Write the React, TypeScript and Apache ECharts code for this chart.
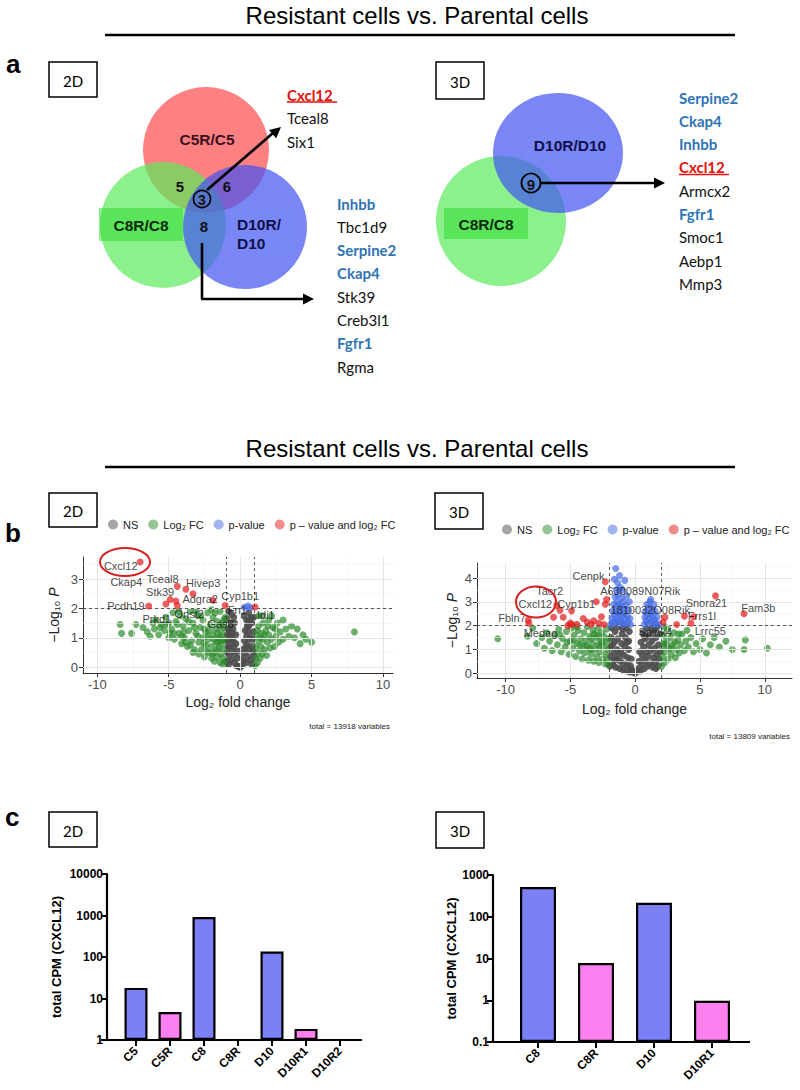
import React, { useEffect, useRef } from "react";
import * as echarts from "echarts";

const SANS = "Liberation Sans, Arial, sans-serif";
const CAL = "Lato, 'Open Sans', sans-serif";

const sectionTitle = "Resistant cells vs. Parental cells";

// ---------- Venn (panel a) ----------
const vennSets2D = ["C5R/C5", "C8R/C8", "D10R/", "D10"];
const vennCounts2D = ["5", "6", "3", "8"];
const vennSets3D = ["D10R/D10", "C8R/C8"];
const vennCount3D = "9";

type Gene = [string, "r" | "b" | "k"];
const genes2DShared3: Gene[] = [["Cxcl12", "r"], ["Tceal8", "k"], ["Six1", "k"]];
const genes2DShared8: Gene[] = [
  ["Inhbb", "b"], ["Tbc1d9", "k"], ["Serpine2", "b"], ["Ckap4", "b"],
  ["Stk39", "k"], ["Creb3l1", "k"], ["Fgfr1", "b"], ["Rgma", "k"],
];
const genes3DShared9: Gene[] = [
  ["Serpine2", "b"], ["Ckap4", "b"], ["Inhbb", "b"], ["Cxcl12", "r"], ["Armcx2", "k"],
  ["Fgfr1", "b"], ["Smoc1", "k"], ["Aebp1", "k"], ["Mmp3", "k"],
];

// ---------- Volcano (panel b) ----------
const legendNames = ["NS", "Log₂ FC", "p-value", "p – value and log₂ FC"];
const volcanoColors = ["#4d4d4d", "#2e8b2e", "#4169e1", "#e31a1c"];
const volcanoXTicks = [-10, -5, 0, 5, 10];
const volcanoXMinor = [-7.5, -2.5, 2.5, 7.5];
const volcano2DYTicks = [0, 1, 2, 3];
const volcano2DYMinor = [0.5, 1.5, 2.5, 3.5];
const volcano3DYTicks = [0, 1, 2, 3, 4];
const volcano3DYMinor = [0.5, 1.5, 2.5, 3.5, 4.5];
const total2D = "total = 13918 variables";
const total3D = "total = 13809 variables";

const ns2D = [
  [-0.95, 0.2], [-0.9, 0.5], [-0.9, 0.9], [-0.85, 1.3], [-0.8, 0.1], [-0.75, 0.4], [-0.7, 0.7], [-0.7, 1.1],
  [-0.65, 1.5], [-0.6, 0.25], [-0.55, 0.55], [-0.5, 0.9], [-0.5, 1.3], [-0.45, 1.7], [-0.4, 0.15], [-0.35, 0.45],
  [-0.3, 0.8], [-0.3, 1.1], [-0.25, 0.05], [-0.2, 0.3], [-0.15, 0.55], [-0.1, 0.02], [0, 0], [0.1, 0.05],
  [0.15, 0.35], [0.2, 0.6], [0.25, 0.2], [0.3, 0.9], [0.35, 1.25], [0.35, 0.5], [0.4, 0.15], [0.45, 1.05],
  [0.45, 1.6], [0.5, 0.8], [0.55, 0.35], [0.6, 1.4], [0.6, 1.85], [0.65, 0.6], [0.7, 1.0], [0.75, 0.25],
  [0.8, 1.5], [0.85, 0.7], [0.9, 1.2], [0.95, 0.4], [0.95, 1.7], [-0.95, 1.65], [-0.6, 1.8], [0.25, 1.75],
  [0.55, 1.2], [-0.85, 0.7], [0.75, 1.7], [-0.8, 1.9], [-0.4, 1.5], [0.85, 0.95], [-0.65, 0.95], [0.4, 0.7],
  [-0.9, 1.1], [-0.75, 1.3], [-0.55, 1.15], [0.65, 1.6], [0.9, 0.55], [-0.45, 0.7], [0.5, 1.4], [0.8, 0.1],
];
const fc2D = [
  [-8.4, 1.45], [-8.3, 1.15], [-7.3, 1.45], [-6.5, 1.2], [-6.3, 1.05], [-6.0, 1.3], [-5.9, 1.6], [-5.7, 1.1],
  [-5.5, 1.45], [-5.3, 1.25], [-5.2, 1.7], [-5.0, 1.0], [-5.0, 1.5], [-4.8, 1.3], [-4.7, 1.85], [-4.6, 0.95],
  [-4.5, 1.55], [-4.3, 1.15], [-4.2, 1.75], [-4.1, 0.8], [-4.0, 1.4], [-3.9, 1.0], [-3.8, 1.65], [-3.7, 0.7],
  [-3.6, 1.25], [-3.5, 1.9], [-3.4, 0.9], [-3.3, 1.5], [-3.2, 0.6], [-3.1, 1.15], [-3.0, 1.75], [-2.9, 0.45],
  [-2.9, 0.85], [-2.8, 1.35], [-2.7, 0.6], [-2.6, 1.0], [-2.6, 1.6], [-2.5, 0.35], [-2.4, 0.75], [-2.4, 1.2],
  [-2.3, 1.85], [-2.2, 0.5], [-2.2, 0.95], [-2.1, 1.45], [-2.0, 0.3], [-2.0, 0.7], [-1.9, 1.1], [-1.9, 1.7],
  [-1.8, 0.2], [-1.8, 0.5], [-1.7, 0.85], [-1.7, 1.3], [-1.6, 0.35], [-1.6, 1.55], [-1.5, 0.65], [-1.5, 1.0],
  [-1.4, 0.15], [-1.4, 1.9], [-1.35, 0.45], [-1.3, 0.8], [-1.3, 1.2], [-1.25, 1.5], [-1.2, 0.1], [-1.2, 0.3],
  [-1.15, 0.6], [-1.1, 0.95], [-1.1, 1.35], [-1.05, 0.2], [-1.05, 1.7], [-3.3, 0.5], [-2.5, 1.3], [-1.6, 1.15],
  [-4.9, 1.15], [-4.4, 1.45], [-3.95, 1.2], [-3.5, 0.75], [-3.2, 1.35], [-2.75, 1.75], [-2.3, 1.05], [-1.95, 0.45],
  [-1.75, 1.85], [-1.55, 0.85], [-1.45, 1.4], [-1.25, 0.9], [-1.15, 1.6], [-3.6, 1.55], [-4.1, 1.05], [-2.95, 1.05],
  [-2.15, 1.25], [-1.85, 0.95], [-2.55, 0.8], [-3.85, 0.85], [-5.6, 1.35], [-5.15, 1.45], [-4.65, 1.15], [-2.35, 0.55],
  [-1.65, 0.6], [-1.35, 1.05], [-6.1, 1.5], [-7.6, 1.15], [-6.8, 1.35], [-4.3, 1.9], [-3.1, 1.9], [-2.0, 1.95],
  [1.05, 0.05], [1.1, 0.3], [1.1, 0.7], [1.15, 1.1], [1.2, 0.15], [1.25, 0.5], [1.3, 0.9], [1.3, 1.4],
  [1.4, 0.3], [1.45, 0.7], [1.5, 1.15], [1.55, 0.45], [1.6, 0.95], [1.6, 1.5], [1.7, 0.6], [1.8, 1.25],
  [1.85, 0.4], [1.9, 0.85], [2.0, 1.1], [2.0, 1.6], [2.1, 0.65], [2.2, 0.95], [2.3, 1.35], [2.4, 0.7],
  [2.5, 1.05], [2.6, 1.5], [2.7, 0.85], [2.8, 1.2], [3.0, 0.95], [3.0, 1.6], [3.2, 1.3], [3.4, 1.05],
  [3.6, 1.4], [3.8, 1.0], [4.0, 1.3], [4.2, 0.8], [4.4, 1.1], [4.6, 0.95], [5.0, 0.85], [8.0, 1.2],
  [1.3, 1.75], [2.2, 1.75], [1.2, 1.25], [1.4, 1.0], [1.7, 1.1], [2.45, 1.3], [1.95, 1.4], [1.55, 1.75],
];
const p2D = [[0.3, 2.04], [0.55, 2.08], [0.75, 2.02]];
const both2D = [
  [-7.0, 3.58], [-4.4, 2.75], [-3.8, 2.65], [-3.3, 2.5], [-4.9, 2.3], [-4.5, 2.25], [-5.2, 2.15],
  [-4.4, 2.1], [-6.4, 2.08], [-1.9, 2.28], [-1.05, 2.1], [1.05, 2.05],
];
const labels2D: [string, number, number][] = [
  ["Cxcl12", -8.36, 3.44], ["Ckap4", -7.97, 2.91], ["Tceal8", -5.42, 3.0], ["Hivep3", -2.59, 2.87],
  ["Stk39", -5.6, 2.55], ["Adgra2", -2.8, 2.31], ["Cyp1b1", 0, 2.42], ["Pcdh19", -8.0, 2.08],
  ["Fn1", -0.2, 1.94], ["Idi1", 1.8, 1.77], ["Onst2", -3.57, 1.8], ["Prkd1", -5.83, 1.63], ["Gas6", -1.36, 1.46],
];

const ns3D = [
  [-1.95, 0.3], [-1.9, 0.7], [-1.9, 1.1], [-1.85, 1.5], [-1.8, 1.9], [-1.7, 0.35], [-1.65, 0.85], [-1.6, 1.3],
  [-1.55, 1.75], [-1.5, 0.25], [-1.45, 0.6], [-1.4, 1.0], [-1.35, 1.45], [-1.3, 1.95], [-1.2, 0.2], [-1.15, 0.5],
  [-1.1, 0.9], [-1.05, 1.25], [-1.0, 1.65], [-0.95, 0.15], [-0.9, 0.4], [-0.85, 0.75], [-0.8, 1.1], [-0.75, 1.5],
  [-0.7, 1.9], [-0.65, 0.1], [-0.6, 0.35], [-0.55, 0.65], [-0.5, 1.0], [-0.5, 1.35], [-0.45, 1.75], [-0.4, 0.05],
  [-0.35, 0.3], [-0.3, 0.6], [-0.25, 0.15], [-0.15, 0.05], [0, 0], [0.15, 0.08], [0.25, 0.2], [0.3, 0.5],
  [0.35, 0.9], [0.4, 0.1], [0.45, 1.3], [0.5, 0.4], [0.55, 0.75], [0.6, 1.7], [0.65, 1.1], [0.7, 0.2],
  [0.75, 0.55], [0.8, 1.45], [0.85, 0.9], [0.9, 1.9], [0.95, 0.3], [1.0, 0.7], [1.05, 1.2], [1.1, 1.6],
  [1.15, 0.4], [1.2, 0.95], [1.3, 1.35], [1.35, 0.25], [1.4, 0.65], [1.45, 1.8], [1.5, 1.05], [1.55, 0.45],
  [1.6, 1.5], [1.65, 0.8], [1.7, 1.95], [1.75, 0.3], [1.8, 1.2], [1.85, 0.6], [1.9, 1.65], [1.95, 0.9],
  [-1.75, 1.2], [-0.95, 1.85], [1.25, 1.85], [-1.25, 0.75], [-1.6, 0.55], [1.6, 0.2], [-0.65, 1.3], [0.7, 1.55],
];
const fc3D = [
  [-10.6, 1.45], [-8.3, 1.55], [-7.9, 1.9], [-7.6, 1.25], [-7.2, 1.5], [-7.0, 1.05], [-6.8, 1.7], [-6.6, 1.35],
  [-6.4, 0.95], [-6.2, 1.6], [-6.0, 1.2], [-5.9, 1.85], [-5.7, 0.9], [-5.6, 1.45], [-5.4, 1.1], [-5.3, 1.75],
  [-5.1, 0.8], [-5.0, 1.35], [-4.9, 1.9], [-4.8, 1.05], [-4.7, 1.6], [-4.6, 0.7], [-4.5, 1.25], [-4.4, 1.8],
  [-4.3, 0.95], [-4.2, 1.45], [-4.1, 0.6], [-4.0, 1.15], [-3.95, 1.7], [-3.9, 0.85], [-3.8, 1.35], [-3.7, 1.95],
  [-3.6, 0.55], [-3.55, 1.05], [-3.5, 1.55], [-3.4, 0.8], [-3.3, 1.25], [-3.25, 1.8], [-3.2, 0.5], [-3.1, 1.0],
  [-3.0, 1.5], [-2.95, 0.7], [-2.9, 1.2], [-2.85, 1.9], [-2.8, 0.45], [-2.7, 0.9], [-2.65, 1.4], [-2.6, 1.7],
  [-2.5, 0.6], [-2.45, 1.1], [-2.4, 1.55], [-2.35, 0.4], [-2.3, 0.8], [-2.25, 1.3], [-2.2, 1.85], [-2.15, 0.55],
  [-2.1, 1.0], [-2.05, 1.45], [-2.05, 0.35], [-5.8, 1.6], [-4.5, 1.95], [-3.4, 1.45], [-2.7, 1.15],
  [-3.75, 1.15], [-3.15, 1.65], [-2.55, 1.3], [-4.25, 1.2], [-3.45, 1.0], [-2.9, 1.6], [-4.75, 1.4], [-5.25, 1.3],
  [2.05, 0.3], [2.1, 0.7], [2.15, 1.15], [2.2, 1.6], [2.3, 0.45], [2.35, 0.9], [2.4, 1.35], [2.5, 1.85],
  [2.55, 0.6], [2.6, 1.05], [2.7, 1.5], [2.8, 0.8], [2.9, 1.2], [3.0, 1.7], [3.1, 0.65], [3.2, 1.0],
  [3.3, 1.4], [3.4, 0.85], [3.5, 1.2], [3.6, 1.65], [3.8, 0.95], [3.9, 1.35], [4.1, 1.1], [4.3, 1.5],
  [4.5, 0.9], [4.7, 1.25], [5.0, 1.0], [5.2, 1.45], [5.5, 0.85], [5.8, 1.2], [6.1, 1.5], [6.5, 1.1],
  [7.0, 1.35], [7.5, 1.0], [8.4, 1.0], [8.5, 1.4], [10.2, 1.05], [4.0, 1.8], [2.3, 1.95], [2.45, 1.2],
  [2.75, 1.05], [3.05, 1.3], [2.25, 1.25], [3.35, 1.65],
];
const p3D = [
  [-1.9, 2.05], [-1.8, 2.3], [-1.75, 2.6], [-1.7, 2.15], [-1.65, 2.9], [-1.6, 2.45], [-1.55, 3.2], [-1.5, 2.1],
  [-1.5, 2.75], [-1.45, 3.5], [-1.4, 2.35], [-1.4, 3.0], [-1.35, 2.6], [-1.35, 3.8], [-1.3, 2.2], [-1.3, 3.3],
  [-1.25, 2.9], [-1.2, 2.5], [-1.2, 4.1], [-1.15, 3.6], [-1.1, 2.15], [-1.1, 2.8], [-1.05, 3.15], [-1.0, 2.4],
  [-1.0, 3.5], [-0.95, 2.05], [-0.9, 2.7], [-0.9, 3.0], [-0.85, 2.3], [-0.8, 3.9], [-0.8, 2.55], [-0.75, 2.1],
  [-0.7, 2.85], [-0.65, 3.25], [-0.6, 2.4], [-0.55, 2.15], [-0.5, 2.65], [-0.45, 3.0], [-0.4, 2.3], [-0.35, 2.05],
  [-1.5, 4.4], [-1.6, 3.95],
  [0.7, 2.05], [0.75, 2.35], [0.8, 2.6], [0.85, 2.2], [0.9, 2.9], [0.95, 2.45], [1.0, 2.1], [1.05, 2.75],
  [1.1, 2.3], [1.15, 3.0], [1.2, 2.5], [1.25, 2.15], [1.3, 2.7], [1.35, 2.4], [1.4, 2.05], [1.45, 2.9],
  [1.5, 2.25], [1.55, 2.6], [1.6, 2.1], [1.7, 2.35], [1.85, 2.05], [1.2, 3.1],
];
const both3D = [
  [-2.3, 3.84], [-6.05, 2.85], [-5.8, 2.65], [-3.0, 3.0], [-4.9, 2.62], [-6.3, 2.35], [-5.55, 2.35],
  [-8.25, 2.23], [-8.2, 2.1], [-5.0, 2.11], [-4.5, 2.06], [-3.7, 2.15], [-3.2, 2.2], [-2.6, 2.37],
  [-5.2, 2.0], [-2.4, 2.05], [-2.8, 2.1], [-3.4, 2.05], [-4.0, 2.3], [-4.9, 2.05], [-2.2, 3.1],
  [-2.3, 2.9], [6.2, 3.25], [8.4, 2.5], [4.5, 2.37], [3.8, 2.4], [4.3, 2.1], [2.15, 2.15], [2.3, 2.35], [3.2, 2.05],
];
const labels3D: [string, number, number][] = [
  ["Cenpk", -3.6, 4.07], ["Tacr2", -6.6, 3.44], ["Cxcl12", -7.7, 2.9], ["Cyp1b1", -4.55, 2.9],
  ["A630089N07Rik", 0.39, 3.44], ["1810032O08Rik", 1.16, 2.65], ["Fbln7", -9.5, 2.32], ["Snora21", 5.5, 2.95],
  ["Fam3b", 9.5, 2.76], ["Frrs1l", 5.15, 2.4], ["Medag", -7.3, 1.67], ["Spink4", 1.55, 1.74], ["Lrrc55", 5.8, 1.78],
];

// ---------- Bars (panel c) ----------
const bar2DCategories = ["C5", "C5R", "C8", "C8R", "D10", "D10R1", "D10R2"];
const bar2DValues: (number | null)[] = [18, 4.7, 920, null, 135, 1.85, null];
const bar2DGroups = ["P", "R", "P", "R", "P", "R", "R"];
const bar2DLogMin = 0; // 10^0 = 1
const bar2DLogMax = 4; // 10^4 = 10000
const bar3DCategories = ["C8", "C8R", "D10", "D10R1"];
const bar3DValues = [515, 7.8, 215, 0.97];
const bar3DGroups = ["P", "R", "P", "R"];
const bar3DLogMin = -1; // 0.1
const bar3DLogMax = 3; // 1000
const groupColors: Record<string, string> = { P: "#7b80f6", R: "#fc80f0" };
const barYName = "total CPM (CXCL12)";

function buildGraphics() {
  const g: any[] = [];
  const txt = (x: number, y: number, text: string, o: any = {}) =>
    g.push({
      type: "text", x, y, z: o.z ?? 20, rotation: o.rot ?? 0,
      style: {
        text, fill: o.color ?? "#000", fontSize: o.size ?? 13, fontFamily: o.family ?? SANS,
        fontWeight: o.weight ?? "normal", align: o.align ?? "left", verticalAlign: o.va ?? "middle",
      },
    });
  const line = (x1: number, y1: number, x2: number, y2: number, w = 2, color = "#000", z = 20) =>
    g.push({ type: "line", z, shape: { x1, y1, x2, y2 }, style: { stroke: color, lineWidth: w } });
  const arrowHead = (x1: number, y1: number, x2: number, y2: number, len = 11, w = 5.5) => {
    const dx = x2 - x1, dy = y2 - y1, L = Math.hypot(dx, dy);
    const ux = dx / L, uy = dy / L, px = -uy, py = ux;
    const bx = x2 - ux * len, by = y2 - uy * len;
    g.push({
      type: "polygon", z: 21,
      shape: { points: [[x2, y2], [bx + px * w, by + py * w], [bx - px * w, by - py * w]] },
      style: { fill: "#000" },
    });
  };
  const box = (x: number, y: number, w: number, h: number, label: string) => {
    g.push({ type: "rect", z: 20, shape: { x, y, width: w, height: h }, style: { fill: "#fff", stroke: "#000", lineWidth: 1.5 } });
    txt(x + w / 2, y + h / 2 + 1, label, { family: CAL, size: 15, align: "center" });
  };
  const circ = (cx: number, cy: number, r: number, fill: string, z = 5) =>
    g.push({ type: "circle", z, shape: { cx, cy, r }, style: { fill } });
  const geneList = (list: Gene[], x: number, y0: number, step: number) =>
    list.forEach(([t, k], i) => {
      const y = y0 + i * step;
      txt(x, y, t, {
        family: CAL, size: 15, weight: k === "k" ? "normal" : "bold",
        color: k === "r" ? "#e3120b" : k === "b" ? "#2e74b5" : "#111",
      });
      if (k === "r") line(x, y + 7, x + 50, y + 7, 1.5, "#e3120b");
    });

  // titles
  txt(417, 15, sectionTitle, { size: 24, align: "center" });
  line(105, 35, 735, 35, 2.5);
  txt(417, 448, sectionTitle, { size: 24, align: "center" });
  line(105, 467, 735, 467, 2.5);

  // panel letters
  txt(6, 64, "a", { size: 26, weight: "bold" });
  txt(5, 533, "b", { size: 26, weight: "bold" });
  txt(5, 817, "c", { size: 26, weight: "bold" });

  // boxes
  box(49, 62, 48, 35, "2D");
  box(436, 62, 48, 37, "3D");
  box(49, 493, 48, 34, "2D");
  box(435, 493, 48, 36, "3D");
  box(49, 812, 48, 35, "2D");
  box(436, 812, 48, 36, "3D");

  // Venn 2D
  circ(206, 150, 63, "rgba(255,74,74,0.7)", 5);
  circ(163, 225, 63, "rgba(91,234,91,0.7)", 6);
  circ(245, 227, 62, "rgba(66,82,241,0.7)", 7);
  g.push({ type: "rect", z: 8, shape: { x: 99, y: 208, width: 84, height: 33 }, style: { fill: "rgba(40,215,40,0.5)" } });
  g.push({ type: "rect", z: 8, shape: { x: 231, y: 209, width: 64, height: 46 }, style: { fill: "rgba(120,140,255,0.25)" } });
  txt(207, 139, vennSets2D[0], { weight: "bold", size: 15.5, align: "center", color: "#3a1020" });
  txt(141, 225, vennSets2D[1], { weight: "bold", size: 15.5, align: "center", color: "#0b2a0b" });
  txt(237, 224, vennSets2D[2], { weight: "bold", size: 15.5, color: "#10104a" });
  txt(237, 243, vennSets2D[3], { weight: "bold", size: 15.5, color: "#10104a" });
  txt(180, 186, vennCounts2D[0], { weight: "bold", size: 15, align: "center", color: "#111" });
  txt(227, 186, vennCounts2D[1], { weight: "bold", size: 15, align: "center", color: "#111" });
  txt(202, 200, vennCounts2D[2], { weight: "bold", size: 14, align: "center", color: "#111" });
  g.push({ type: "circle", z: 20, shape: { cx: 202, cy: 199, r: 8.5 }, style: { fill: "none", stroke: "#000", lineWidth: 1.6 } });
  txt(204, 226, vennCounts2D[3], { weight: "bold", size: 15, align: "center", color: "#111" });
  line(207, 190, 273, 133, 2.6);
  arrowHead(207, 190, 281, 127);
  line(202, 243, 202, 299, 2.6);
  line(201, 299, 304, 299, 2.6);
  arrowHead(202, 299, 314, 299);
  geneList(genes2DShared3, 287, 95, 23.3);
  geneList(genes2DShared8, 337, 203.5, 23.3);

  // Venn 3D
  g.push({ type: "circle", z: 5, shape: { cx: 501, cy: 221, r: 65 }, style: { fill: "rgba(91,234,91,0.7)" } });
  g.push({ type: "ellipse", z: 6, shape: { cx: 558, cy: 153, rx: 65, ry: 60 }, style: { fill: "rgba(66,82,241,0.7)" } });
  g.push({ type: "rect", z: 8, shape: { x: 444, y: 208, width: 84, height: 31 }, style: { fill: "rgba(40,215,40,0.5)" } });
  g.push({ type: "rect", z: 8, shape: { x: 526, y: 133, width: 86, height: 24 }, style: { fill: "rgba(120,140,255,0.25)" } });
  txt(570, 145, vennSets3D[0], { weight: "bold", size: 15.5, align: "center", color: "#10104a" });
  txt(486, 224, vennSets3D[1], { weight: "bold", size: 15.5, align: "center", color: "#0b2a0b" });
  txt(531, 184, vennCount3D, { weight: "bold", size: 15, align: "center", color: "#111" });
  g.push({ type: "circle", z: 20, shape: { cx: 531, cy: 183, r: 9.5 }, style: { fill: "none", stroke: "#000", lineWidth: 1.8 } });
  line(541, 183, 654, 183, 2.6);
  arrowHead(541, 183, 665, 183);
  geneList(genes3DShared9, 679, 97.5, 23.3);

  // volcano decorations
  g.push({ type: "ellipse", z: 100, shape: { cx: 125, cy: 562, rx: 25, ry: 14 }, style: { fill: "none", stroke: "#d42020", lineWidth: 2 } });
  g.push({ type: "ellipse", z: 100, shape: { cx: 536, cy: 602, rx: 20, ry: 15.5 }, style: { fill: "none", stroke: "#d42020", lineWidth: 2 } });
  txt(390, 726, total2D, { size: 8, align: "right", color: "#222" });
  txt(790, 736, total3D, { size: 8, align: "right", color: "#222" });

  // bar x-axis lines
  line(106, 1040, 362, 1040, 2.2, "#000", 30);
  line(493, 1042, 750, 1042, 2.2, "#000", 30);
  return g;
}

function gridLineSeries(xi: number, xMaj: number[], xMin: number[], yMaj: number[], yMin: number[]) {
  const maj = { color: "#e4e4e4", width: 1, type: "solid" };
  const mnr = { color: "#f0f0f0", width: 0.6, type: "solid" };
  return {
    type: "scatter", xAxisIndex: xi, yAxisIndex: xi, data: [], z: 1, silent: true,
    markLine: {
      silent: true, symbol: ["none", "none"], label: { show: false }, animation: false,
      data: [
        ...xMaj.map((v) => ({ xAxis: v, lineStyle: maj })),
        ...xMin.map((v) => ({ xAxis: v, lineStyle: mnr })),
        ...yMaj.map((v) => ({ yAxis: v, lineStyle: maj })),
        ...yMin.map((v) => ({ yAxis: v, lineStyle: mnr })),
      ],
    },
  };
}

function volcanoSeries(xi: number, sets: number[][][], labels: [string, number, number][], fcCut: number) {
  const s: any[] = sets.map((d, k) => ({
    name: legendNames[k], type: "scatter", xAxisIndex: xi, yAxisIndex: xi, data: d, z: 3 + k,
    symbolSize: 7, itemStyle: { color: volcanoColors[k], opacity: k === 0 ? 0.9 : 0.7 }, silent: true,
  }));
  s.push({
    type: "scatter", xAxisIndex: xi, yAxisIndex: xi, data: [], z: 8, silent: true,
    markLine: {
      silent: true, symbol: ["none", "none"], label: { show: false },
      lineStyle: { color: "#444", width: 0.9, type: [3, 3] },
      data: [{ xAxis: -fcCut }, { xAxis: fcCut }, { yAxis: 2 }],
    },
  });
  s.push({
    type: "scatter", xAxisIndex: xi, yAxisIndex: xi, z: 9, silent: true, symbolSize: 1,
    itemStyle: { color: "rgba(0,0,0,0)" },
    data: labels.map(([n, x, y]) => ({ name: n, value: [x, y] })),
    label: {
      show: true, position: "inside", formatter: "{b}", color: "#111", fontSize: 11, fontFamily: SANS,
      textBorderWidth: 0,
    },
  });
  return s;
}

const volcanoX = (gi: number, min: number, max: number, gap: number) => ({
  gridIndex: gi, type: "value", min, max,
  axisLine: { show: true, onZero: false, lineStyle: { color: "#333", width: 1 } },
  axisTick: { show: true, customValues: volcanoXTicks, length: 4, lineStyle: { color: "#333" } },
  axisLabel: { customValues: volcanoXTicks, color: "#4d4d4d", fontSize: 13, margin: 5, fontFamily: SANS },
  splitLine: { show: false },
  name: "Log₂ fold change", nameLocation: "middle", nameGap: gap,
  nameTextStyle: { fontSize: 14, color: "#222", fontFamily: SANS },
});
const volcanoY = (gi: number, min: number, max: number, ticks: number[], gap: number) => ({
  gridIndex: gi, type: "value", min, max,
  axisLine: { show: true, onZero: false, lineStyle: { color: "#333", width: 1 } },
  axisTick: { show: true, customValues: ticks, length: 4, lineStyle: { color: "#333" } },
  axisLabel: { customValues: ticks, color: "#4d4d4d", fontSize: 13, margin: 5, fontFamily: SANS },
  splitLine: { show: false },
  name: "−Log₁₀ {i|P}", nameLocation: "middle", nameGap: gap, nameRotate: 90,
  nameTextStyle: { fontSize: 14, color: "#222", fontFamily: SANS, rich: { i: { fontStyle: "italic", fontSize: 14, fontFamily: SANS } } },
});

// bars are drawn on a decade axis (log10 of the CPM, shifted so the bars rise from the axis minimum)
const barY = (gi: number, logMin: number, logMax: number, offset: number, gap: number) => ({
  gridIndex: gi, type: "value", min: 0, max: logMax - logMin, interval: 1, offset,
  axisLine: { show: true, lineStyle: { color: "#000", width: 2.2 } },
  axisTick: { show: true, length: 6, lineStyle: { color: "#000", width: 2 } },
  axisLabel: {
    formatter: (v: number) => {
      const n = Math.pow(10, v + logMin);
      return n < 1 ? n.toFixed(1) : String(Math.round(n));
    },
    color: "#000", fontSize: 12, fontWeight: "bold", fontFamily: SANS, margin: 4,
  },
  splitLine: { show: false },
  name: barYName, nameLocation: "middle", nameGap: gap, nameRotate: 90,
  nameTextStyle: { fontSize: 13, fontWeight: "bold", color: "#000", fontFamily: SANS },
});
const barX = (gi: number, cats: string[]) => ({
  gridIndex: gi, type: "category", data: cats,
  axisLine: { show: false },
  axisTick: { show: true, alignWithLabel: true, length: 6, lineStyle: { color: "#000", width: 2 } },
  axisLabel: { rotate: 45, color: "#000", fontSize: 12, fontWeight: "bold", fontFamily: SANS, margin: 9, interval: 0 },
  splitLine: { show: false },
});
const barSeries = (xi: number, vals: (number | null)[], groups: string[], logMin: number, width: number) => ({
  type: "bar", xAxisIndex: xi, yAxisIndex: xi, barWidth: width, silent: true,
  data: vals.map((v, i) =>
    v == null
      ? "-"
      : { value: Math.log10(v) - logMin, itemStyle: { color: groupColors[groups[i]], borderColor: "#000", borderWidth: 2.2 } }
  ),
});

export default function App() {
  const ref = useRef<HTMLDivElement>(null);
  useEffect(() => {
    document.body.style.margin = "0";
    const chart = echarts.init(ref.current!, null, { renderer: "svg" });
    const option: any = {
      animation: false,
      backgroundColor: "#fff",
      textStyle: { fontFamily: SANS },
      grid: [
        { left: 83, width: 310, top: 557, height: 116 },
        { left: 477, width: 315, top: 563, height: 115 },
        { left: 119, width: 238, top: 874, height: 166 },
        { left: 509, width: 232, top: 875, height: 167 },
      ],
      legend: [
        {
          left: 103, top: 514, icon: "circle", itemWidth: 10, itemHeight: 10, itemGap: 10, selectedMode: false,
          itemStyle: { opacity: 0.5 }, textStyle: { fontSize: 11, color: "#222", fontFamily: SANS }, data: legendNames,
        },
        {
          left: 497, top: 519, icon: "circle", itemWidth: 10, itemHeight: 10, itemGap: 10, selectedMode: false,
          itemStyle: { opacity: 0.5 }, textStyle: { fontSize: 11, color: "#222", fontFamily: SANS }, data: legendNames,
        },
      ],
      xAxis: [
        volcanoX(0, -11, 10.7, 22),
        volcanoX(1, -12.2, 12.1, 24),
        barX(2, bar2DCategories),
        barX(3, bar3DCategories),
      ],
      yAxis: [
        volcanoY(0, -0.2, 3.75, volcano2DYTicks, 22),
        volcanoY(1, -0.2, 4.63, volcano3DYTicks, 18),
        barY(2, bar2DLogMin, bar2DLogMax, 12, 44),
        barY(3, bar3DLogMin, bar3DLogMax, 16, 33),
      ],
      series: [
        gridLineSeries(0, volcanoXTicks, volcanoXMinor, volcano2DYTicks, volcano2DYMinor),
        ...volcanoSeries(0, [ns2D, fc2D, p2D, both2D], labels2D, 1),
        gridLineSeries(1, volcanoXTicks, volcanoXMinor, volcano3DYTicks, volcano3DYMinor),
        ...volcanoSeries(1, [ns3D, fc3D, p3D, both3D], labels3D, 2),
        barSeries(2, bar2DValues, bar2DGroups, bar2DLogMin, 23),
        barSeries(3, bar3DValues, bar3DGroups, bar3DLogMin, 36),
      ],
      graphic: buildGraphics(),
    };
    chart.setOption(option);
    return () => chart.dispose();
  }, []);
  return <div ref={ref} style={{ width: 800, height: 1090 }} />;
}
